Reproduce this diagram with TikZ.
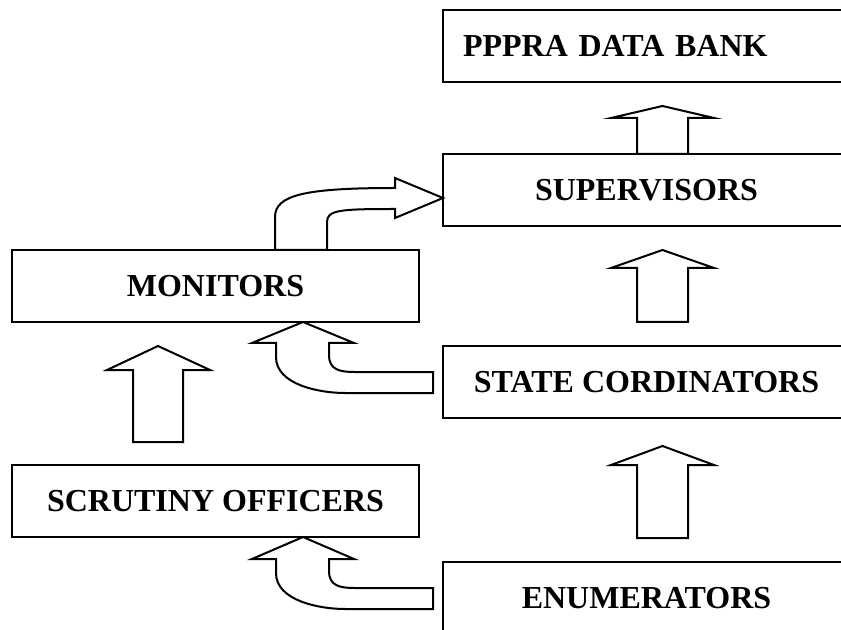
\documentclass[tikz,border=0pt]{standalone}
\usepackage{fontspec}
\setmainfont{Liberation Serif}

\tikzset{
  stage/.style={draw, line width=1.5pt, minimum width=305.25pt, minimum height=54pt,
    inner sep=0pt, font=\fontsize{24}{28}\selectfont\bfseries},
  blockarr/.style={draw, line width=1.5pt, fill=white, line join=miter}
}

\begin{document}
\begin{tikzpicture}[x=0.75pt,y=-0.75pt]

\useasboundingbox (0,0) rectangle (841,630);
\clip (0,0) rectangle (841,630);

\node[stage, text width=275.25pt, inner xsep=15pt, align=left] (bank) at (646.5,46) {PPPRA DATA BANK};

\node[stage] (sup) at (646.5,190) {SUPERVISORS};

\node[stage] (mon) at (215.5,286) {MONITORS};

\node[stage] (state) at (646.5,382) {STATE CORDINATORS};

\node[stage] (scr) at (215.5,501) {SCRUTINY OFFICERS};

\node[stage] (enum) at (646.5,598) {ENUMERATORS};

% straight block arrows
\draw[blockarr] (637,154)--(637,118)--(611,118)--(662.5,106)--(714,118)--(688,118)--(688,154)--cycle;
\draw[blockarr] (637,322)--(637,268)--(611,268)--(662.5,250)--(714,268)--(688,268)--(688,322)--cycle;
\draw[blockarr] (637,538)--(637,465)--(611,465)--(662.5,446)--(714,465)--(688,465)--(688,538)--cycle;
\draw[blockarr] (133,442)--(133,370)--(107,370)--(158,346)--(210,370)--(183,370)--(183,442)--cycle;

% bent block arrows
\draw[blockarr] (275,250)--(275,217) .. controls (275,195) and (305,188) .. (395,188)
  --(395,178)--(443,198)--(395,218)--(395,209) .. controls (340,209) and (327,210) .. (327,222)
  --(327,250)--cycle;

\draw[blockarr] (303,322)--(354,343)--(329,343)--(329,355) .. controls (329,370) and (340,372) .. (355,372)
  --(433,372)--(433,393)--(345,393) .. controls (320,393) and (276,385) .. (276,357)
  --(276,343)--(252,343)--cycle;

\draw[blockarr] (303,537)--(354,559)--(329,559)--(329,571) .. controls (329,586) and (340,588) .. (355,588)
  --(433,588)--(433,609)--(345,609) .. controls (320,609) and (276,601) .. (276,573)
  --(276,559)--(252,559)--cycle;

\end{tikzpicture}
\end{document}
